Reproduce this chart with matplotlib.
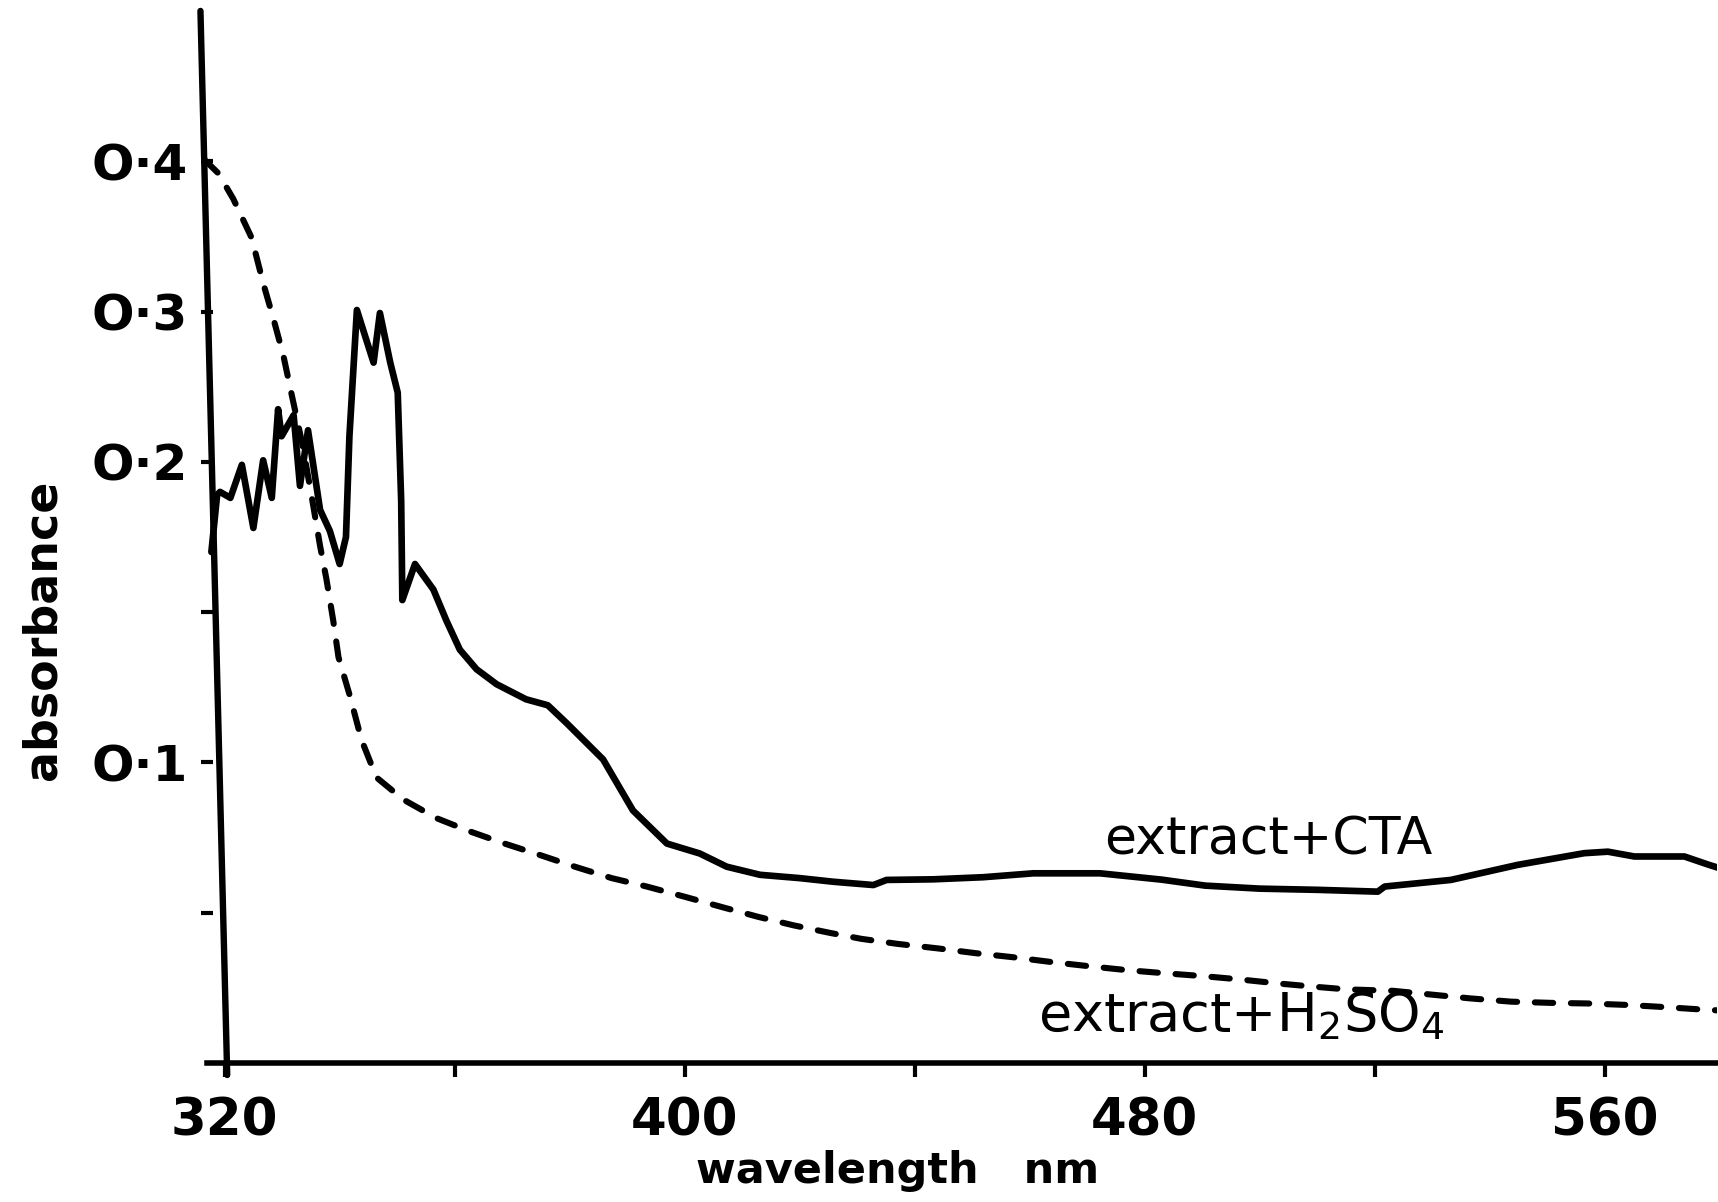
import numpy as np
import matplotlib
matplotlib.use('Agg')
import matplotlib.pyplot as plt

# ---- data ----
wl_cta = [317.7, 318.7, 319.2, 321.0, 323.0, 325.0, 326.7, 328.2, 329.3, 329.9,
          332.0, 333.1, 334.5, 336.6, 338.3, 340.0, 341.1, 341.7, 343.0, 344.4,
          345.9, 347.0, 348.8, 350.1, 350.7, 350.9, 353.1, 356.3, 358.6, 360.9,
          363.8, 367.3, 372.4, 376.2, 379.5, 385.8, 391.0, 396.9, 402.6, 407.3,
          413.1, 420.0, 425.8, 432.8, 435.1, 443.2, 451.9, 460.6, 472.2, 482.9,
          490.5, 500.0, 510.1, 520.5, 521.7, 533.2, 544.8, 556.4, 560.5, 565.1,
          573.8, 578.1, 579.6]
abs_cta = [0.170, 0.189, 0.190, 0.188, 0.199, 0.178, 0.201, 0.188, 0.235, 0.217,
           0.231, 0.192, 0.221, 0.184, 0.177, 0.166, 0.175, 0.217, 0.301, 0.284,
           0.266, 0.299, 0.266, 0.246, 0.187, 0.154, 0.166, 0.1575, 0.147, 0.1375,
           0.131, 0.126, 0.121, 0.119, 0.113, 0.101, 0.084, 0.073, 0.0697, 0.0653,
           0.0626, 0.0615, 0.0603, 0.0592, 0.0609, 0.0611, 0.0618, 0.0631, 0.0631, 0.061,
           0.059, 0.058, 0.0576, 0.0570, 0.0587, 0.0609, 0.0659, 0.0698, 0.0703, 0.0687,
           0.0687, 0.0659, 0.0650]

wl_h2so4 = [316.5, 318.9, 321.5, 324.7, 326.7, 328.5, 330.2, 331.7, 333.5, 335.0,
            336.6, 337.7, 338.9, 339.8, 341.8, 343.8, 346.4, 351.1, 356.9, 362.7,
            368.5, 374.8, 380.9, 387.3, 393.4, 400.0, 406.6, 412.8, 418.9, 425.2,
            430.7, 437.1, 444.1, 450.7, 457.0, 464.1, 469.8, 476.8, 483.8, 490.1,
            496.5, 503.5, 509.3, 515.0, 523.2, 536.5, 543.7, 550.6, 557.0, 564.0,
            570.3, 576.7, 579.6]
abs_h2so4 = [0.401, 0.392, 0.375, 0.349, 0.319, 0.295, 0.271, 0.244, 0.212, 0.190,
             0.172, 0.161, 0.147, 0.135, 0.122, 0.1075, 0.095, 0.0876, 0.0814, 0.0770,
             0.0731, 0.0692, 0.0653, 0.0615, 0.0587, 0.0553, 0.0518, 0.0486, 0.0458, 0.0433,
             0.0413, 0.0396, 0.0381, 0.0365, 0.0352, 0.0335, 0.0323, 0.0309, 0.0298, 0.0289,
             0.0278, 0.0264, 0.0254, 0.0245, 0.0240, 0.0215, 0.0204, 0.0200, 0.0198, 0.0193,
             0.0186, 0.0178, 0.0175]

x_ticks_major = [320, 400, 480, 560]
x_ticks_minor = [360, 440, 520]
y_ticks = [0.05, 0.1, 0.15, 0.2, 0.3, 0.4]
y_ticklabels = ['', 'O·1', '', 'O·2', 'O·3', 'O·4']

label_cta = 'extract+CTA'
label_h2so4 = r'extract+H$_2$SO$_4$'

# ---- piecewise-linear absorbance scale of the original ----
_A = [-1.0, 0.0, 0.2, 1.0]
_P = [-20.0, 0.0, 4.0, 12.0]
def fwd(a):
    return np.interp(a, _A, _P)
def inv(p):
    return np.interp(p, _P, _A)

fig = plt.figure(figsize=(17.18, 12.02), dpi=100)
ax = fig.add_axes([0.114, 0.0969, 0.8855, 0.894])
ax.set_yscale('function', functions=(fwd, inv))
ax.set_xlim(315, 579.5)
ax.set_ylim(float(inv(-0.15)), 0.5)

ax.plot(wl_cta, abs_cta, color='black', lw=4.8, solid_joinstyle='round',
        solid_capstyle='round')
ax.plot(wl_h2so4, abs_h2so4, color='black', lw=4.4, dashes=(3.0, 2.9),
        dash_capstyle='round', dash_joinstyle='round')

# spines
for s in ['top', 'right']:
    ax.spines[s].set_visible(False)
ax.spines['left'].set_visible(False)
ax.spines['left'].set_position(('data', 318))
ax.spines['bottom'].set_position(('data', 0))
ax.spines['bottom'].set_bounds(317, 579.5)
ax.spines['bottom'].set_linewidth(4.0)

# slanted hand-drawn y axis
ax.plot([315.8, 320.45], [0.5, float(inv(-0.08))], color='black', lw=4.6,
        clip_on=False, solid_capstyle='round')

ax.set_xticks(x_ticks_major)
ax.set_xticklabels([str(v) for v in x_ticks_major])
ax.set_xticks(x_ticks_minor, minor=True)
ax.tick_params(axis='x', which='both', direction='out', length=10, width=3,
               pad=14, labelsize=37)
for t in ax.get_xticklabels():
    t.set_fontweight('bold')

ax.set_yticks(y_ticks)
ax.set_yticklabels(y_ticklabels)
ax.yaxis.set_minor_locator(matplotlib.ticker.NullLocator())
ax.tick_params(axis='y', which='both', direction='out', length=9, width=3,
               pad=9, labelsize=36)
for t in ax.get_yticklabels():
    t.set_fontweight('bold')

ax.set_xlabel('wavelength   nm', fontsize=31, fontweight='bold')
ax.xaxis.set_label_coords(0.4615, -0.060)
ax.set_ylabel('absorbance', fontsize=33, fontweight='bold')
ax.yaxis.set_label_coords(-0.086, 0.424)

ax.text(501.5, 0.0692, label_cta, fontsize=37.5, ha='center', va='baseline')
ax.text(496.7, 0.0104, label_h2so4, fontsize=39, ha='center', va='baseline')

fig.savefig('out.png', dpi=100, facecolor='white')
